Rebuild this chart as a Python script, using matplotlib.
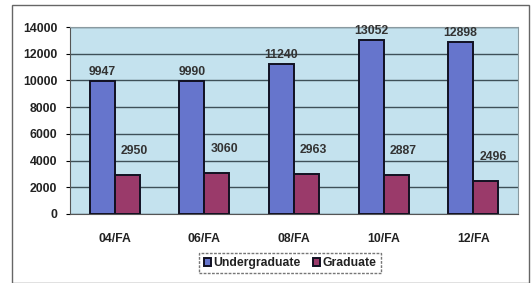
import matplotlib
matplotlib.use("Agg")
import matplotlib.pyplot as plt
import numpy as np
from matplotlib.patches import Rectangle

categories = ["04/FA", "06/FA", "08/FA", "10/FA", "12/FA"]
undergrad = [9947, 9990, 11240, 13052, 12898]
graduate = [2950, 3060, 2963, 2887, 2496]
series_names = ["Undergraduate", "Graduate"]
yticks = [0, 2000, 4000, 6000, 8000, 10000, 12000, 14000]

plt.rcParams['font.family'] = ['Liberation Sans', 'DejaVu Sans']

fig = plt.figure(figsize=(5.32, 2.83), dpi=100)
fig.patch.set_facecolor("white")
ax = fig.add_axes([70/532, 1-214/283, 448/532, 187/283])
ax.set_facecolor("#c4e2ee")

x = np.arange(len(categories))
w = 0.28
b1 = ax.bar(x - w/2, undergrad, w, color="#6675cc", edgecolor="#111122", linewidth=1.4,
            label=series_names[0], zorder=3)
b2 = ax.bar(x + w/2, graduate, w, color="#9a3a6a", edgecolor="#111122", linewidth=1.4,
            label=series_names[1], zorder=3)

fs = 8.8
for xi, v in zip(x, undergrad):
    ax.annotate(f"{v}", (xi - w/2, v), xytext=(0, 2), textcoords="offset points",
                ha="center", va="bottom", fontsize=fs, fontweight="bold", color="#333333")
for xi, v in zip(x, graduate):
    ax.annotate(f"{v}", (xi + w/2 + 0.08, v), xytext=(0, 13), textcoords="offset points",
                ha="center", va="bottom", fontsize=fs, fontweight="bold", color="#333333")

ax.set_xlim(-0.5, len(categories) - 0.5)
ax.set_ylim(0, 14000)
ax.set_yticks(yticks)
ax.set_yticklabels([str(t) for t in yticks], fontsize=fs, fontweight="bold", color="#222222")
ax.set_xticks(x)
ax.set_xticklabels(categories, fontsize=fs, fontweight="bold", color="#222222")
ax.tick_params(axis="y", length=3, pad=6)
ax.tick_params(axis="x", length=0, pad=14)
ax.grid(axis="y", color="#3e5058", linewidth=1.0, zorder=1)
for s in ["top", "right"]:
    ax.spines[s].set_color("#8a9aa0")
    ax.spines[s].set_linestyle((0, (3, 1)))
ax.spines["left"].set_color("#555555")
ax.spines["bottom"].set_color("#555555")

leg = fig.legend(handles=[b1, b2], loc="center", bbox_to_anchor=(290/532, 1-263/283),
                 ncol=2, fontsize=fs, frameon=True, handlelength=0.6, handleheight=0.6,
                 handletextpad=0.2, columnspacing=1.0, borderpad=0.35, fancybox=False)
leg.get_frame().set_edgecolor("#555555")
leg.get_frame().set_linestyle((0, (2, 1)))
for t in leg.get_texts():
    t.set_fontweight("bold")
    t.set_color("#222222")

fig.add_artist(Rectangle((12/532, 0.0), 517/532, 1-5/283, transform=fig.transFigure,
                         fill=False, edgecolor="#666666", linewidth=1.0))

fig.savefig("out.png", dpi=100)
